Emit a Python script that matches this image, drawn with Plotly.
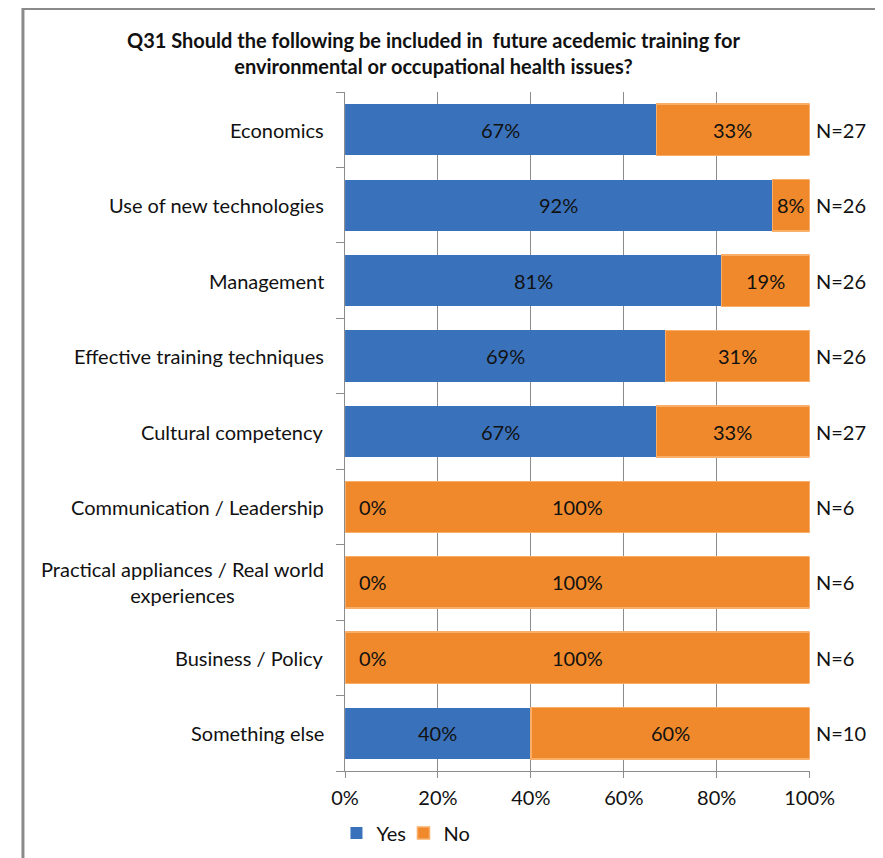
import plotly.graph_objects as go

categories = ["Economics", "Use of new technologies", "Management",
              "Effective training techniques", "Cultural competency",
              "Communication / Leadership",
              "Practical appliances / Real world<br>experiences",
              "Business / Policy", "Something else"]
yes_pct = [67, 92, 81, 69, 67, 0, 0, 0, 40]
no_pct = [33, 8, 19, 31, 33, 100, 100, 100, 60]
n_resp = [27, 26, 26, 26, 27, 6, 6, 6, 10]
x_ticks = [0, 20, 40, 60, 80, 100]

W, H = 883, 858
OFF = 8  # page body margin: screen position = figure position + 8
FONT = "Lato"
BLUE = "#3a71bb"
ORANGE = "#f0892b"
GRID = "#8c8c8c"
FS = 20


def px(x):
    return (x - OFF) / W


def py(y):
    return 1 - (y - OFF) / H


idx = list(range(len(categories)))
fig = go.Figure()
fig.add_trace(go.Bar(y=idx, x=[v / 100 for v in yes_pct], orientation="h", name="Yes",
                     marker=dict(color=BLUE, line=dict(width=0))))
fig.add_trace(go.Bar(y=idx, x=[v / 100 for v in no_pct], orientation="h", name="No",
                     marker=dict(color=ORANGE, line=dict(color="#f9ae6a", width=1.5))))

ann = []
lblfont = dict(family=FONT, size=FS, color="#111111")
for i, (c, y, n, cnt) in enumerate(zip(categories, yes_pct, no_pct, n_resp)):
    ann.append(dict(x=px(326), xref="paper", y=i, yref="y", text=c, showarrow=False,
                    xanchor="right", align="center", font=lblfont))
    if y > 0:
        ann.append(dict(x=y / 200, y=i, xref="x", yref="y", text=f"{y}%", showarrow=False,
                        font=lblfont))
    else:
        ann.append(dict(x=0, y=i, xref="x", yref="y", text=f"{y}%", showarrow=False,
                        xanchor="left", xshift=12, font=lblfont))
    ann.append(dict(x=(y + n / 2) / 100, y=i, xref="x", yref="y", text=f"{n}%",
                    showarrow=False, font=lblfont))
    ann.append(dict(x=1, y=i, xref="x", yref="y", text=f"N={cnt}", showarrow=False,
                    xanchor="left", xshift=4, font=lblfont))

ann.append(dict(x=px(438), y=py(53), xref="paper", yref="paper",
                text="<b>Q31 Should the following be included in  future acedemic training for<br>environmental or occupational health issues?</b>",
                showarrow=False, align="center", xanchor="center", yanchor="middle",
                font=dict(family=FONT, size=FS, color="#111111")))
shapes = [dict(type="rect", xref="paper", yref="paper", x0=px(9), x1=1.2,
               y0=-0.2, y1=py(8.5), line=dict(color="#8a8a8a", width=3))]

fig.update_layout(
    width=W, height=H,
    margin=dict(l=0, r=0, t=0, b=0),
    paper_bgcolor="white", plot_bgcolor="white",
    barmode="stack", bargap=0.32,
    font=dict(family=FONT, size=FS, color="#111111"),
    annotations=ann,
    showlegend=True,
    legend=dict(orientation="h", x=px(337), xanchor="left", y=py(833), yanchor="middle",
                font=dict(family=FONT, size=FS, color="#111111"), itemwidth=30,
                entrywidth=22, entrywidthmode="pixels",
                traceorder="normal", bgcolor="rgba(0,0,0,0)"),
    shapes=shapes,
    xaxis=dict(domain=[px(346), px(832)], range=[0, 1], tickvals=[t / 100 for t in x_ticks],
               ticktext=[f"{t}%" for t in x_ticks], showgrid=True, gridcolor=GRID,
               gridwidth=1, zeroline=False, showline=True, linecolor=GRID,
               ticks="outside", ticklen=6, tickcolor=GRID, ticklabelstandoff=3,
               tickfont=dict(family=FONT, size=FS, color="#111111")),
    yaxis=dict(domain=[py(771), py(92)], type="linear", range=[8.5, -0.5],
               showticklabels=False, showgrid=False, zeroline=False, showline=True,
               linecolor=GRID, ticks="outside", ticklen=8, tickcolor=GRID,
               tickvals=[i - 0.5 for i in range(len(categories) + 1)]),
)
fig.write_html("out.html")
